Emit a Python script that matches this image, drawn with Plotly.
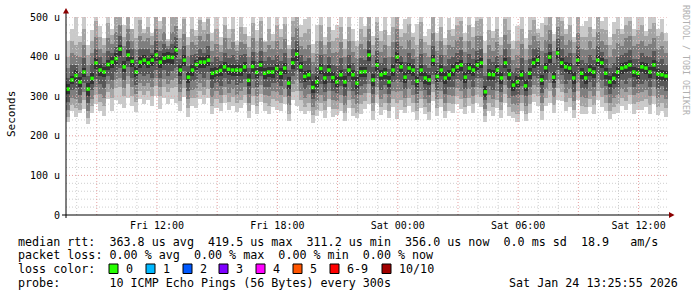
import plotly.graph_objects as go
import pandas as pd

# ---------------- data ----------------
N = 150
STEP_MIN = 12
START = "2026-01-23 07:28"
END = "2026-01-24 13:28"

median = [318,341,352,336,361,318,345,384,366,361,
          380,386,395,419,374,404,388,361,386,391,
          384,391,404,386,396,399,398,417,366,391,
          348,366,380,386,386,391,358,361,365,374,
          368,366,366,366,374,340,375,360,379,358,
          361,361,370,358,371,333,384,406,374,350,
          354,322,336,370,346,366,347,336,354,336,
          366,354,333,361,362,404,341,379,354,358,
          336,366,399,374,348,371,366,338,366,346,
          341,391,350,366,346,354,366,374,379,348,
          371,366,379,384,311,355,354,366,346,384,
          355,328,336,354,326,358,384,391,341,372,
          399,348,409,384,374,371,346,391,358,346,
          366,361,391,384,358,336,345,361,371,374,
          379,361,358,374,371,361,379,356,354,351]

lo5 = [305,330,338,322,348,300,332,368,352,348,
       366,372,380,402,360,388,375,348,372,378,
       370,376,390,372,382,385,382,400,352,377,
       334,352,366,372,372,376,344,348,350,360,
       354,352,352,350,360,326,360,346,364,344,
       348,346,356,344,356,318,368,390,360,336,
       340,308,322,356,332,352,334,322,340,322,
       352,340,318,348,348,388,326,364,340,344,
       322,352,384,360,334,356,352,324,352,332,
       328,376,336,352,332,340,352,360,364,334,
       356,352,364,370,298,340,340,352,332,370,
       340,314,322,340,312,344,370,376,328,358,
       384,334,394,370,360,356,332,376,344,332,
       352,346,376,370,344,322,332,346,356,360,
       364,348,344,360,356,346,364,342,340,338]
hi5 = [330,352,366,348,372,334,358,396,378,374,
       392,398,408,430,388,416,400,374,398,404,
       396,404,416,398,408,412,410,428,380,404,
       362,378,392,398,398,404,370,374,378,386,
       380,378,378,380,386,356,388,372,390,370,
       374,374,382,370,384,348,396,418,386,364,
       366,338,350,382,360,378,360,350,366,350,
       378,366,348,374,374,416,356,392,366,370,
       350,378,412,386,362,384,378,352,378,360,
       354,404,364,378,360,366,378,386,392,362,
       384,378,392,396,326,368,366,378,360,396,
       368,342,350,366,340,370,396,404,354,384,
       412,362,422,396,386,384,360,404,370,360,
       378,374,404,396,370,350,358,374,384,386,
       392,374,370,386,384,374,392,368,366,364]

lo4 = [286,316,318,304,334,284,316,344,330,320,
       352,342,362,370,342,374,346,328,356,350,
       356,346,366,346,366,352,364,370,332,364,
       314,338,342,356,346,362,320,334,326,346,
       332,340,328,334,344,306,344,322,350,324,
       324,334,334,326,340,300,352,364,334,318,
       328,292,308,330,310,334,312,308,326,300,
       336,314,302,326,330,358,306,346,316,328,
       306,336,340,336,318,340,328,306,336,316,
       304,354,316,336,306,322,324,344,338,318,
       340,324,346,346,290,326,316,334,310,350,
       320,300,302,326,300,324,350,346,308,340,
       358,320,366,354,330,340,310,356,320,318,
       336,322,356,342,326,306,318,324,340,332,
       346,324,330,332,338,322,344,318,326,314]
hi4 = [346,378,380,362,396,352,382,420,400,384,
       414,410,424,452,400,440,420,392,420,418,
       418,410,440,414,432,420,432,450,394,428,
       376,404,406,420,410,426,386,398,390,410,
       396,404,392,404,406,370,412,388,414,390,
       398,392,404,390,410,366,418,440,404,388,
       396,356,374,404,378,400,380,376,396,368,
       404,384,364,396,392,440,374,414,384,396,
       368,400,436,402,386,408,394,370,406,380,
       370,428,384,404,376,394,398,410,416,384,
       406,394,414,418,350,394,386,402,378,420,
       398,362,372,396,362,394,420,422,380,408,
       432,384,444,418,402,408,378,426,392,384,
       404,392,428,412,394,370,384,398,404,410,
       416,394,394,408,402,398,414,390,394,380]

lo3 = [266,296,292,284,310,262,294,322,306,296,
       330,318,340,346,320,350,322,306,334,326,
       334,322,346,322,344,332,342,346,310,342,
       292,316,318,334,322,340,298,312,304,324,
       308,318,304,312,322,284,320,300,328,302,
       300,312,310,302,318,278,330,340,312,296,
       306,272,288,304,288,312,290,288,304,278,
       312,292,280,302,308,332,284,324,292,306,
       284,314,310,312,296,318,304,284,314,294,
       282,330,292,314,284,302,300,320,314,296,
       318,300,324,320,268,304,292,312,286,328,
       296,280,278,304,276,302,328,322,284,318,
       334,298,342,332,308,318,288,334,298,296,
       314,300,334,320,304,284,296,302,318,310,
       324,302,308,310,316,300,322,296,304,292]
hi3 = [372,410,404,400,430,380,410,450,420,408,
       446,432,462,480,428,470,440,420,452,440,
       448,430,470,440,462,428,462,478,420,458,
       402,436,430,452,440,456,414,432,412,446,
       420,436,414,438,432,400,446,412,448,412,
       430,418,440,420,444,396,450,472,428,420,
       430,386,406,440,406,436,410,412,436,398,
       440,412,396,432,420,470,404,448,412,430,
       398,436,470,426,420,442,420,400,444,410,
       400,460,414,440,404,430,424,442,450,412,
       440,422,452,452,380,430,414,436,404,454,
       432,392,404,432,392,430,452,440,414,442,
       466,414,474,452,430,442,410,460,420,416,
       440,420,462,440,430,400,420,434,428,446,
       452,426,432,440,428,432,448,420,428,410]

lo2 = [248,278,270,266,290,244,276,302,286,276,
       310,296,320,322,300,330,300,286,314,304,
       312,300,326,300,322,310,320,324,288,320,
       270,296,296,312,302,318,276,292,282,302,
       286,298,284,290,302,262,300,276,306,282,
       276,292,288,282,298,256,310,314,290,272,
       284,252,266,282,266,292,268,268,282,258,
       290,270,258,280,288,308,262,302,272,284,
       262,292,282,290,274,296,282,262,292,272,
       260,310,270,292,262,282,280,300,292,274,
       296,280,302,298,250,282,272,290,264,306,
       272,260,256,282,254,280,306,300,262,296,
       312,278,320,310,286,296,266,312,276,274,
       292,278,312,298,282,262,274,280,296,288,
       302,280,286,288,294,278,300,274,282,270]
hi2 = [400,440,430,436,470,405,440,490,450,430,
       486,455,500,512,450,505,470,448,492,460,
       476,452,508,470,500,440,500,512,448,496,
       430,470,452,492,466,494,440,470,430,480,
       448,470,430,476,456,424,486,440,490,436,
       470,440,480,450,482,420,490,520,450,460,
       470,410,440,480,430,476,440,446,476,420,
       476,440,426,470,450,512,430,488,440,466,
       426,476,520,450,460,482,450,430,488,438,
       430,500,440,476,430,466,452,480,490,440,
       480,450,490,494,410,466,446,470,430,496,
       466,420,440,470,420,466,492,460,450,480,
       506,440,512,490,456,480,436,500,450,450,
       476,450,500,470,466,430,456,470,456,480,
       490,452,468,480,452,470,486,452,462,440]

lo1 = [236,262,248,258,268,230,258,280,262,250,
       292,262,290,280,270,296,276,260,292,280,
       290,276,300,268,296,280,294,284,262,298,
       248,276,270,292,280,296,254,270,262,284,
       264,276,260,270,282,244,278,256,286,262,
       256,272,266,262,280,238,290,276,262,256,
       262,232,250,262,246,272,248,252,262,238,
       270,250,244,256,268,280,240,282,252,266,
       246,272,242,264,258,276,260,240,270,256,
       240,288,250,272,244,262,258,280,268,256,
       276,258,282,272,236,262,250,270,244,284,
       250,244,236,262,238,258,286,276,240,276,
       284,258,290,288,262,274,244,290,256,256,
       272,256,290,274,262,242,254,258,276,266,
       280,256,264,264,274,256,280,252,262,248]
hi1 = [440,470,505,452,520,430,468,530,478,446,
       520,470,560,540,480,550,458,500,530,470,
       505,460,560,490,520,445,545,560,470,535,
       450,510,468,535,488,540,460,505,450,520,
       470,505,440,520,476,452,525,468,528,440,
       505,458,520,470,518,430,535,560,480,494,
       520,432,480,520,450,512,466,480,530,445,
       512,470,440,508,478,560,452,530,465,505,
       455,512,560,470,494,518,460,482,540,452,
       470,540,460,512,448,498,470,520,530,460,
       518,476,530,534,440,502,465,512,450,534,
       500,440,478,520,446,504,534,470,486,520,
       550,456,560,534,470,520,450,540,478,490,
       512,470,540,490,500,450,488,508,470,520,
       528,470,500,520,465,506,528,470,496,460]

ytick_vals = [0, 100, 200, 300, 400, 500]
ytick_text = ["0", "100 u", "200 u", "300 u", "400 u", "500 u"]
xtick_vals = ["2026-01-23 12:00", "2026-01-23 18:00", "2026-01-24 00:00",
              "2026-01-24 06:00", "2026-01-24 12:00"]
xtick_text = ["Fri 12:00", "Fri 18:00", "Sat 00:00", "Sat 06:00", "Sat 12:00"]

median_stats = ["363.8 us avg", "419.5 us max", "311.2 us min", "356.0 us now", "0.0 ms sd", "18.9   am/s"]
loss_stats = ["0.00 % avg", "0.00 % max", "0.00 % min", "0.00 % now"]
loss_labels = ["0", "1", "2", "3", "4", "5", "6-9", "10/10"]
loss_colors = ["#26ff00", "#00b8ff", "#0059ff", "#7e00ff", "#ff00ff", "#ff5500", "#ff0000", "#a10000"]
probe_text = "10 ICMP Echo Pings (56 Bytes) every 300s"
stamp_text = "Sat Jan 24 13:25:55 2026"

# ---------------- style ----------------
W, H = 697, 297
PL, PR, PT, PB = 66, 668, 17, 215   # plot area in pixels
FONT = "DejaVu Sans Mono"
band_colors = ["#cacaca", "#a4a4a4", "#7e7e7e", "#585858", "#323232"]


def px(xp):
    return (xp - PL) / (PR - PL)


def py(yp):
    return (PB - yp) / (PB - PT)


start = pd.Timestamp(START)
times = [start + pd.Timedelta(minutes=STEP_MIN * i + STEP_MIN / 2) for i in range(N)]
bar_w = STEP_MIN * 60 * 1000

fig = go.Figure()
bands = [(lo1, hi1), (lo2, hi2), (lo3, hi3), (lo4, hi4), (lo5, hi5)]
for (lo, hi), col in zip(bands, band_colors):
    fig.add_trace(go.Bar(
        x=times, y=[h - l for l, h in zip(lo, hi)], base=lo,
        width=[bar_w] * N, marker=dict(color=col, line=dict(width=0)),
        hoverinfo="skip", showlegend=False))

fig.add_trace(go.Scatter(
    x=times, y=median, mode="markers",
    marker=dict(symbol="square", size=3.5, color="#26ff00", line=dict(width=0)),
    showlegend=False, hoverinfo="skip"))

shapes = []
# horizontal grid (drawn above the smoke, like rrdtool)
for v in range(20, 501, 20):
    red = v % 100 == 0
    shapes.append(dict(type="line", xref="paper", yref="y", x0=0, x1=1, y0=v, y1=v,
                       line=dict(color="#e6a0a0" if red else "#cfcfcf", width=1, dash="1px,2px"),
                       layer="above"))
# vertical grid every hour, red every 3 hours
t = pd.Timestamp("2026-01-23 08:00")
tend = pd.Timestamp(END)
while t < tend:
    red = t.hour % 3 == 0
    shapes.append(dict(type="line", xref="x", yref="paper", x0=t, x1=t, y0=0, y1=1,
                       line=dict(color="#e6a0a0" if red else "#cfcfcf", width=1, dash="1px,2px"),
                       layer="above"))
    t += pd.Timedelta(hours=1)

# axes lines + arrows
shapes.append(dict(type="line", xref="paper", yref="paper", x0=px(62), x1=px(671), y0=0, y1=0,
                   line=dict(color="black", width=1), layer="above"))
shapes.append(dict(type="line", xref="paper", yref="paper", x0=0, x1=0, y0=py(218), y1=py(12),
                   line=dict(color="black", width=1), layer="above"))
shapes.append(dict(type="path", xref="paper", yref="paper",
                   path=f"M {px(63)} {py(13.5)} L {px(69)} {py(13.5)} L {px(66)} {py(8)} Z",
                   fillcolor="#8b0000", line=dict(color="#8b0000", width=0), layer="above"))
shapes.append(dict(type="path", xref="paper", yref="paper",
                   path=f"M {px(669)} {py(212)} L {px(669)} {py(218)} L {px(674.5)} {py(215)} Z",
                   fillcolor="#8b0000", line=dict(color="#8b0000", width=0), layer="above"))

# legend boxes
box_x = [109, 146, 183, 219, 256, 293, 330, 382]
for bx, col in zip(box_x, loss_colors):
    shapes.append(dict(type="rect", xref="paper", yref="paper",
                       x0=px(bx), x1=px(bx + 9), y0=py(273.5), y1=py(264),
                       fillcolor=col, line=dict(color="black", width=1)))


def nb(s):
    return s.replace(" ", "\u00a0")


annotations = []
LEG = dict(family=FONT, size=11.7, color="black")


def add_text(x, y, s, anchor="left", font=LEG):
    annotations.append(dict(xref="paper", yref="paper", x=px(x), y=py(y), text=nb(s),
                            showarrow=False, xanchor=anchor, yanchor="middle", font=font))


line1 = "median rtt:  " + "  ".join(median_stats)
line2 = "packet loss: " + "  ".join(loss_stats)
add_text(16, 241.5, line1)
add_text(16, 255.3, line2)
add_text(16, 269, "loss color:")
for bx, lab in zip(box_x, loss_labels):
    add_text(bx + 15, 269, lab)
add_text(16, 282.8, "probe:       " + probe_text)
add_text(680, 282.8, stamp_text, anchor="right")

# y-axis title
annotations.append(dict(xref="paper", yref="paper", x=px(11), y=py(114), text="Seconds",
                        textangle=-90, showarrow=False, xanchor="center", yanchor="middle",
                        font=dict(family=FONT, size=11, color="black")))
# watermark
annotations.append(dict(xref="paper", yref="paper", x=px(686), y=py(60),
                        text=nb("RRDTOOL / TOBI OETIKER"), textangle=90, showarrow=False,
                        xanchor="center", yanchor="middle",
                        font=dict(family=FONT, size=8.3, color="#b0b0b0")))

fig.update_layout(
    width=W, height=H, autosize=False,
    margin=dict(l=PL, r=W - PR, t=PT, b=H - PB, pad=0),
    paper_bgcolor="white", plot_bgcolor="white",
    barmode="overlay", bargap=0,
    shapes=shapes, annotations=annotations,
    showlegend=False,
    xaxis=dict(type="date", range=[START, END], showgrid=False, zeroline=False,
               showline=False, tickvals=xtick_vals, ticktext=xtick_text, ticks="",
               tickfont=dict(family=FONT, size=10, color="black"), ticklabelstandoff=3),
    yaxis=dict(range=[0, 500], showgrid=False, zeroline=False, showline=False,
               tickvals=ytick_vals, ticktext=[nb(s) for s in ytick_text], ticks="",
               tickfont=dict(family=FONT, size=10, color="black"), ticklabelstandoff=5),
)

fig.write_html("out.html")
